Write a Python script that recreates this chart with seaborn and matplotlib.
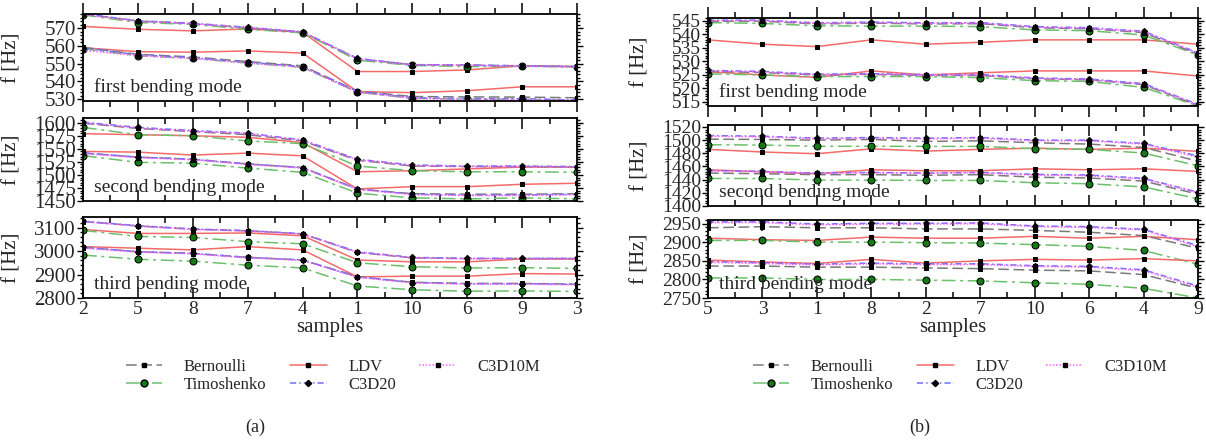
import matplotlib
matplotlib.use("Agg")
import matplotlib.pyplot as plt
from matplotlib.lines import Line2D
from matplotlib.ticker import AutoMinorLocator, MultipleLocator
import numpy as np
import pandas as pd
import seaborn as sns

# ---------------------------------------------------------------- data
MODELS = ["Bernoulli", "Timoshenko", "LDV", "C3D20", "C3D10M"]
SAMPLES_A = ["2", "5", "8", "7", "4", "1", "10", "6", "9", "3"]
SAMPLES_B = ["5", "3", "1", "8", "2", "7", "10", "6", "4", "9"]
MODE_NAMES = ["first bending mode", "second bending mode", "third bending mode"]

# set (a), first mode: upper and lower branch
A1_HI_BER = [578.0, 574.0, 572.6, 570.2, 567.8, 552.8, 549.4, 549.2, 548.8, 548.4]
A1_HI_TIM = [577.5, 573.2, 572.2, 569.4, 567.4, 552.0, 549.0, 548.4, 548.5, 548.2]
A1_HI_LDV = [571.0, 569.4, 568.5, 569.6, 567.7, 545.6, 545.6, 546.5, 548.8, 548.4]
A1_HI_C20 = [578.2, 574.2, 572.8, 570.5, 568.0, 553.0, 549.5, 549.3, 548.8, 548.4]
A1_HI_C10 = [577.8, 573.9, 572.5, 570.3, 567.8, 552.8, 549.3, 549.1, 548.6, 548.2]
A1_LO_BER = [559.2, 555.3, 553.8, 551.2, 548.8, 534.6, 531.5, 531.3, 531.2, 530.8]
A1_LO_TIM = [558.5, 554.5, 553.0, 550.4, 548.0, 534.0, 530.5, 530.0, 530.0, 529.4]
A1_LO_LDV = [559.0, 556.8, 556.5, 557.2, 556.0, 534.3, 533.7, 534.8, 537.0, 537.0]
A1_LO_C20 = [559.0, 555.0, 553.4, 550.8, 548.4, 534.3, 530.9, 530.3, 530.3, 529.6]
A1_LO_C10 = [557.6, 554.5, 553.0, 550.3, 548.0, 534.0, 530.5, 529.8, 529.8, 529.3]

# set (a), second mode
A2_HI_BER = [1599, 1589, 1583, 1577, 1565, 1528, 1517, 1516, 1516, 1515]
A2_HI_TIM = [1591, 1577, 1575, 1565, 1560, 1517, 1508, 1506, 1506, 1505]
A2_HI_LDV = [1579, 1577, 1575, 1572, 1562, 1506, 1508, 1511.5, 1515, 1515]
A2_HI_C20 = [1601, 1591, 1585, 1580, 1567, 1530, 1519, 1517, 1517, 1516]
A2_HI_C10 = [1600, 1590, 1584, 1579, 1566, 1529, 1518, 1516, 1516, 1515]
A2_LO_BER = [1542, 1534, 1530, 1521, 1514, 1473, 1464, 1463, 1463, 1464]
A2_LO_TIM = [1537, 1524, 1522.5, 1513, 1505, 1465, 1456, 1454, 1456, 1454]
A2_LO_LDV = [1545, 1543.6, 1538, 1541.7, 1536.5, 1473, 1477.5, 1477.5, 1482, 1484]
A2_LO_C20 = [1542, 1534, 1530, 1521, 1514, 1473, 1463, 1461.5, 1461.5, 1463]
A2_LO_C10 = [1541, 1533, 1529, 1520, 1513, 1472, 1462, 1460.5, 1460.5, 1462]

# set (a), third mode
A3_HI_BER = [3126, 3107, 3093, 3086, 3073, 2994, 2971, 2968, 2968, 2968]
A3_HI_TIM = [3088, 3062, 3058, 3040, 3031, 2950, 2933, 2928, 2929, 2926]
A3_HI_LDV = [3092, 3075, 3075, 3077, 3065, 2962, 2954, 2954, 2966, 2966]
A3_HI_C20 = [3127, 3108, 3094, 3087, 3074, 2997, 2973, 2969, 2969, 2969]
A3_HI_C10 = [3125, 3106, 3092, 3085, 3072, 2995, 2971, 2967, 2967, 2967]
A3_LO_BER = [3016, 2997, 2990, 2973, 2962, 2891, 2867, 2862, 2862, 2859]
A3_LO_TIM = [2983, 2965, 2957, 2940, 2928, 2851, 2835, 2829, 2830, 2828]
A3_LO_LDV = [3019, 3012, 3005, 3019, 3005, 2890, 2893, 2893, 2904, 2902]
A3_LO_C20 = [3016, 2997, 2990, 2973, 2962, 2890, 2866, 2861, 2861, 2858]
A3_LO_C10 = [3012, 2995, 2988, 2971, 2960, 2888, 2864, 2859, 2859, 2856]

# set (b), first mode
B1_HI_BER = [544.8, 544.8, 543.8, 544.1, 543.8, 543.9, 542.4, 542.0, 540.6, 532.6]
B1_HI_TIM = [544.3, 544.0, 543.1, 543.0, 543.0, 542.8, 541.6, 541.3, 539.7, 532.3]
B1_HI_LDV = [537.9, 536.3, 535.4, 537.9, 536.3, 537.0, 537.9, 537.9, 537.9, 536.3]
B1_HI_C20 = [545.2, 545.2, 544.2, 544.5, 544.2, 544.3, 542.8, 542.4, 541.1, 533.1]
B1_HI_C10 = [545.0, 545.0, 544.0, 544.3, 544.0, 544.1, 542.6, 542.2, 540.9, 532.9]
B1_LO_BER = [526.2, 525.8, 524.9, 525.1, 524.7, 524.7, 523.5, 523.1, 521.3, 513.6]
B1_LO_TIM = [525.3, 524.9, 524.3, 524.3, 524.3, 523.9, 522.8, 522.5, 520.3, 513.4]
B1_LO_LDV = [526.1, 524.9, 524.0, 526.4, 524.9, 525.7, 526.4, 526.4, 526.4, 524.5]
B1_LO_C20 = [526.6, 526.2, 525.2, 525.4, 525.0, 525.1, 523.8, 523.4, 521.7, 514.0]
B1_LO_C10 = [526.4, 526.0, 525.0, 525.2, 524.8, 524.9, 523.6, 523.2, 521.5, 513.8]

# set (b), second mode
B2_HI_BER = [1501.5, 1501, 1500, 1501, 1498, 1499, 1496, 1494, 1489, 1468]
B2_HI_TIM = [1493, 1492.6, 1490.7, 1490.7, 1490.5, 1490.5, 1487, 1486, 1480.4, 1461]
B2_HI_LDV = [1486, 1482, 1479.4, 1486.8, 1483.4, 1486, 1487.8, 1486, 1487.8, 1483]
B2_HI_C20 = [1507, 1506, 1503, 1504, 1503, 1504, 1500, 1500, 1495, 1476]
B2_HI_C10 = [1506, 1505, 1502, 1503, 1502, 1503, 1499, 1499, 1494, 1474]
B2_LO_BER = [1450, 1449, 1447.6, 1447.6, 1446.6, 1447.6, 1443.7, 1442.6, 1437.8, 1418]
B2_LO_TIM = [1441.8, 1441.8, 1439.3, 1439.3, 1438.8, 1438.8, 1435.3, 1433.8, 1429, 1410.9]
B2_LO_LDV = [1455, 1452, 1449, 1455, 1453.5, 1453.5, 1456.5, 1455, 1456.5, 1452.5]
B2_LO_C20 = [1454, 1452.5, 1450, 1451, 1450, 1451, 1448, 1447, 1442, 1421]
B2_LO_C10 = [1453, 1452, 1449.5, 1450.5, 1449.5, 1450.5, 1447, 1446, 1441, 1420]

# set (b), third mode
B3_HI_BER = [2939, 2942, 2939, 2939, 2936, 2936, 2932, 2927, 2918, 2884]
B3_HI_TIM = [2905, 2905, 2900.5, 2900.5, 2899, 2898, 2893.6, 2889, 2878, 2841]
B3_HI_LDV = [2911, 2907, 2905, 2914, 2911, 2911, 2916, 2911, 2916, 2907]
B3_HI_C20 = [2955, 2955, 2949, 2951, 2951, 2952, 2944, 2942, 2935, 2891]
B3_HI_C10 = [2953, 2953, 2947, 2949, 2949, 2950, 2942, 2940, 2933, 2888]
B3_LO_BER = [2836, 2836, 2833, 2833, 2831, 2829, 2825, 2823, 2813, 2776]
B3_LO_TIM = [2804, 2804, 2800, 2800, 2798, 2796, 2791, 2787, 2776, 2750]
B3_LO_LDV = [2852, 2847, 2843, 2854, 2844, 2850, 2854, 2852, 2856, 2850]
B3_LO_C20 = [2848, 2845, 2841, 2844, 2842, 2842, 2837, 2835, 2826, 2782]
B3_LO_C10 = [2846, 2843, 2839, 2842, 2840, 2840, 2835, 2833, 2824, 2779]

# axis ranges and tick steps per subplot
YLIM_A = [(529, 578), (1450, 1609), (2800, 3145)]
YSTEP_A = [10, 25, 100]
YLIM_B = [(513.4, 546), (1400, 1523), (2750, 2960)]
YSTEP_B = [5, 20, 50]

# ---------------------------------------------------------------- tables
def branch_table(samples, hi, lo):
    rows = []
    for branch, series in (("hi", hi), ("lo", lo)):
        for model, values in zip(MODELS, series):
            for pos, (s, v) in enumerate(zip(samples, values)):
                rows.append({"pos": pos, "sample": s, "f": v,
                             "model": model, "branch": branch})
    return pd.DataFrame(rows)

TABLES_A = [
    branch_table(SAMPLES_A, [A1_HI_BER, A1_HI_TIM, A1_HI_LDV, A1_HI_C20, A1_HI_C10],
                 [A1_LO_BER, A1_LO_TIM, A1_LO_LDV, A1_LO_C20, A1_LO_C10]),
    branch_table(SAMPLES_A, [A2_HI_BER, A2_HI_TIM, A2_HI_LDV, A2_HI_C20, A2_HI_C10],
                 [A2_LO_BER, A2_LO_TIM, A2_LO_LDV, A2_LO_C20, A2_LO_C10]),
    branch_table(SAMPLES_A, [A3_HI_BER, A3_HI_TIM, A3_HI_LDV, A3_HI_C20, A3_HI_C10],
                 [A3_LO_BER, A3_LO_TIM, A3_LO_LDV, A3_LO_C20, A3_LO_C10]),
]
TABLES_B = [
    branch_table(SAMPLES_B, [B1_HI_BER, B1_HI_TIM, B1_HI_LDV, B1_HI_C20, B1_HI_C10],
                 [B1_LO_BER, B1_LO_TIM, B1_LO_LDV, B1_LO_C20, B1_LO_C10]),
    branch_table(SAMPLES_B, [B2_HI_BER, B2_HI_TIM, B2_HI_LDV, B2_HI_C20, B2_HI_C10],
                 [B2_LO_BER, B2_LO_TIM, B2_LO_LDV, B2_LO_C20, B2_LO_C10]),
    branch_table(SAMPLES_B, [B3_HI_BER, B3_HI_TIM, B3_HI_LDV, B3_HI_C20, B3_HI_C10],
                 [B3_LO_BER, B3_LO_TIM, B3_LO_LDV, B3_LO_C20, B3_LO_C10]),
]

# ---------------------------------------------------------------- style
sns.set_theme(style="ticks")
plt.rcParams["font.family"] = ["Liberation Serif", "DejaVu Serif"]

STYLE = {
    "Bernoulli": dict(color="#7a7a7a", linestyle=(0, (7, 3)), marker="s",
                      markersize=3.2, markerfacecolor="black", markeredgecolor="black"),
    "Timoshenko": dict(color="#6cc06c", linestyle=(0, (9, 3, 2, 3)), marker="o",
                       markersize=5, markerfacecolor="#157a15", markeredgecolor="black"),
    "LDV": dict(color="#f46a6a", linestyle="-", marker="s",
                markersize=3, markerfacecolor="black", markeredgecolor="black"),
    "C3D20": dict(color="#6e6eff", linestyle=(0, (4, 2, 1, 2)), marker="D",
                  markersize=3.2, markerfacecolor="black", markeredgecolor="black"),
    "C3D10M": dict(color="#ff5cff", linestyle=(0, (1, 1.2)), marker="s",
                   markersize=3.2, markerfacecolor="black", markeredgecolor="black"),
}
DRAW_ORDER = ["LDV", "Timoshenko", "Bernoulli", "C3D20", "C3D10M"]

FS_XTICK = 14
FS_LABEL = 15
FS_MODE = 14

W, H = 1206, 441
fig = plt.figure(figsize=(W / 100, H / 100), dpi=100)


def box(x0, x1, y0, y1):
    return [x0 / W, 1 - y1 / H, (x1 - x0) / W, (y1 - y0) / H]


BOXES_A = [box(83, 577, 14, 101), box(83, 577, 118, 201), box(83, 577, 217, 298)]
BOXES_B = [box(708, 1198, 18, 106), box(708, 1198, 125, 206), box(708, 1198, 220, 298)]


def draw_panel(boxes, tables, samples, ylims, ysteps, ytick_fs):
    axes = []
    for i, (rect, df, ylim, ystep) in enumerate(zip(boxes, tables, ylims, ysteps)):
        ax = fig.add_axes(rect)
        for branch in ("hi", "lo"):
            for model in DRAW_ORDER:
                sub = df[(df.model == model) & (df.branch == branch)]
                sns.lineplot(data=sub, x="pos", y="f", ax=ax, estimator=None,
                             sort=False, linewidth=1.1, legend=False,
                             **STYLE[model])
        ax.set_xlim(0, len(samples) - 1)
        ax.set_ylim(*ylim)
        ax.xaxis.set_minor_locator(MultipleLocator(0.5))
        ax.yaxis.set_major_locator(MultipleLocator(ystep))
        ax.yaxis.set_minor_locator(AutoMinorLocator(5))
        ax.set_xticks(range(len(samples)))
        ax.set_xticklabels(samples)
        for sp in ax.spines.values():
            sp.set_visible(True)
            sp.set_linewidth(1.3)
            sp.set_color("black")
        xdir = "out" if i == 0 else "in"
        ax.tick_params(axis="x", which="both", direction=xdir, top=True, bottom=True,
                       labelbottom=(i == 2), labelsize=FS_XTICK, pad=2, width=1.1,
                       color="black")
        ax.tick_params(axis="x", which="major", length=8)
        ax.tick_params(axis="x", which="minor", length=4)
        ax.tick_params(axis="y", which="both", direction="out", left=True, right=True,
                       labelleft=True, labelright=False, labelsize=ytick_fs, pad=1,
                       width=1.0, color="black")
        ax.tick_params(axis="y", which="major", length=4)
        ax.tick_params(axis="y", which="minor", length=2.5)
        ax.set_ylabel("f [Hz]", fontsize=FS_LABEL, labelpad=3)
        ax.set_xlabel("samples" if i == 2 else "", fontsize=FS_LABEL, labelpad=0)
        ax.text(0.022, 0.06, MODE_NAMES[i], transform=ax.transAxes,
                fontsize=FS_MODE, ha="left", va="bottom")
        axes.append(ax)
    return axes


axes_a = draw_panel(BOXES_A, TABLES_A, SAMPLES_A, YLIM_A, YSTEP_A, 15)
axes_b = draw_panel(BOXES_B, TABLES_B, SAMPLES_B, YLIM_B, YSTEP_B, 14)

for ax in axes_a:
    ax.yaxis.set_label_coords(-0.125, 0.5)
for ax in axes_b:
    ax.yaxis.set_label_coords(-0.12, 0.5)

handles = [Line2D([], [], linewidth=1.1, **STYLE[m]) for m in MODELS]
for cx in (333 / W, 960 / W):
    fig.legend(handles, MODELS, loc="center", bbox_to_anchor=(cx, 1 - 376 / H),
               ncol=3, frameon=False, fontsize=12, handlelength=2.2,
               columnspacing=1.4, handletextpad=1.3, labelspacing=0.15)

fig.text(255 / W, 1 - 427 / H, "(a)", ha="center", va="center", fontsize=13)
fig.text(920 / W, 1 - 427 / H, "(b)", ha="center", va="center", fontsize=13)

fig.savefig("out.png", dpi=100)
